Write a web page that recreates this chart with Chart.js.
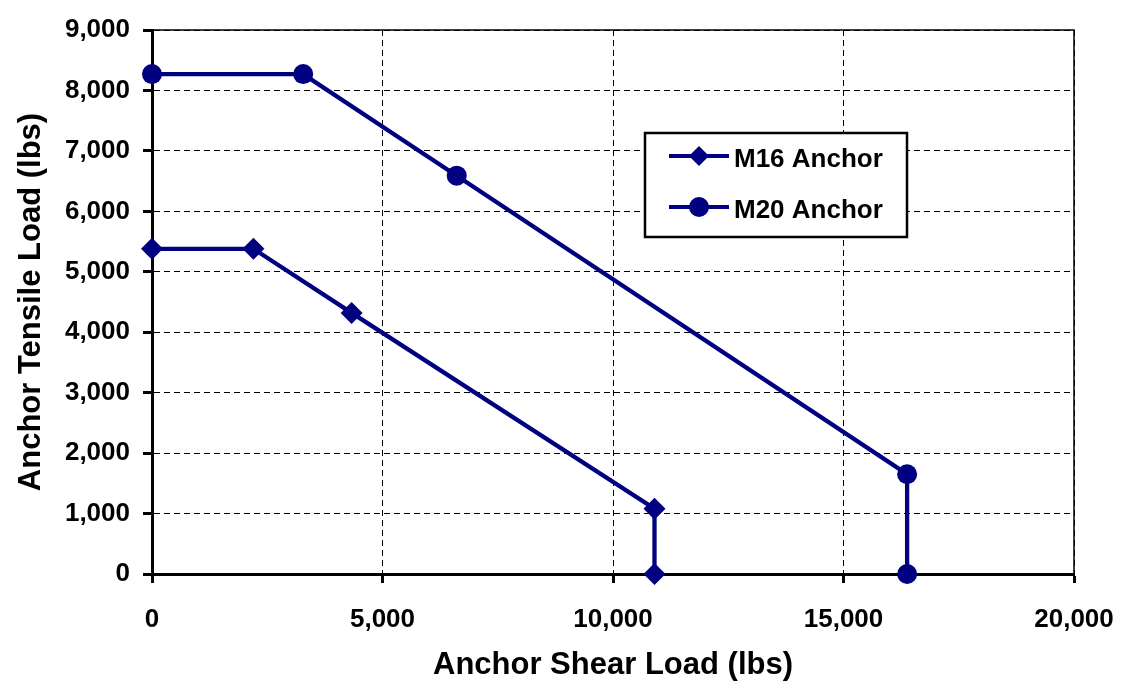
<!DOCTYPE html>
<html>
<head>
<meta charset="utf-8">
<script src="https://cdn.jsdelivr.net/npm/chart.js@4/dist/chart.umd.min.js"></script>
<style>
  html, body { margin: 0; padding: 0; background: #fff; }
  #wrap { width: 1126px; height: 698px; }
</style>
</head>
<body>
<div id="wrap"><canvas id="chart" width="1126" height="698"></canvas></div>
<script>
// --- Data ---
const m16Shear = [0, 2200, 4330, 10900, 10900];
const m16Tensile = [5380, 5380, 4320, 1080, 0];
const m20Shear = [0, 3280, 6610, 16380, 16380];
const m20Tensile = [8270, 8270, 6590, 1650, 0];
const seriesNames = ["M16 Anchor", "M20 Anchor"];

const navy = "#000080";
const toPoints = (xs, ys) => xs.map((x, i) => ({ x: x, y: ys[i] }));

// frame + legend box drawn on top
const framePlugin = {
  id: "frame",
  afterDraw(chart) {
    const ctx = chart.ctx;
    const a = chart.chartArea;
    ctx.save();
    ctx.strokeStyle = "#000";
    ctx.lineWidth = 1.5;
    ctx.beginPath();
    ctx.moveTo(a.left, a.top);
    ctx.lineTo(a.right, a.top);
    ctx.lineTo(a.right, a.bottom);
    ctx.stroke();

    // legend
    const bx = 645, by = 133, bw = 262, bh = 104;
    ctx.fillStyle = "#fff";
    ctx.fillRect(bx, by, bw, bh);
    ctx.lineWidth = 2.5;
    ctx.strokeRect(bx, by, bw, bh);
    ctx.font = "bold 26px 'Liberation Sans', Arial, sans-serif";
    ctx.textBaseline = "middle";
    chart.data.datasets.forEach((ds, i) => {
      const y = by + 23 + i * 51;
      ctx.strokeStyle = navy;
      ctx.lineWidth = 4;
      ctx.beginPath();
      ctx.moveTo(669, y);
      ctx.lineTo(729, y);
      ctx.stroke();
      ctx.fillStyle = navy;
      ctx.beginPath();
      if (ds.pointStyle === "rectRot") {
        const r = 10;
        ctx.moveTo(699, y - r);
        ctx.lineTo(699 + r, y);
        ctx.lineTo(699, y + r);
        ctx.lineTo(699 - r, y);
        ctx.closePath();
      } else {
        ctx.arc(699, y, 10, 0, Math.PI * 2);
      }
      ctx.fill();
      ctx.fillStyle = "#000";
      ctx.fillText(ds.label, 734, y + 4);
    });
    ctx.restore();
  },
};

const tickFont = { family: "'Liberation Sans', Arial, sans-serif", size: 26, weight: "bold" };
const titleFont = { family: "'Liberation Sans', Arial, sans-serif", size: 31, weight: "bold" };

new Chart(document.getElementById("chart"), {
  type: "scatter",
  data: {
    datasets: [
      {
        label: seriesNames[0],
        data: toPoints(m16Shear, m16Tensile),
        showLine: true,
        borderColor: navy,
        backgroundColor: navy,
        borderWidth: 4.3,
        pointStyle: "rectRot",
        pointRadius: 11,
        pointBorderWidth: 0,
        clip: false,
      },
      {
        label: seriesNames[1],
        data: toPoints(m20Shear, m20Tensile),
        showLine: true,
        borderColor: navy,
        backgroundColor: navy,
        borderWidth: 4.3,
        pointStyle: "circle",
        pointRadius: 10,
        pointBorderWidth: 0,
        clip: false,
      },
    ],
  },
  options: {
    responsive: false,
    animation: false,
    devicePixelRatio: 1,
    layout: { padding: { top: 30, right: 52, left: 0, bottom: 0 } },
    plugins: {
      legend: { display: false },
      tooltip: { enabled: false },
    },
    scales: {
      x: {
        type: "linear",
        min: 0,
        max: 20000,
        ticks: {
          stepSize: 5000,
          color: "#000",
          font: tickFont,
          padding: 21,
          maxRotation: 0,
        },
        grid: {
          color: "#000",
          lineWidth: 1,
          tickLength: 9,
          tickColor: "#000",
          tickWidth: 3,
          tickBorderDash: [],
        },
        border: { color: "#000", width: 3, dash: [6, 4] },
        title: {
          display: true,
          text: "Anchor Shear Load (lbs)",
          color: "#000",
          font: titleFont,
          padding: { top: 4, bottom: 14 },
        },
        afterFit: (scale) => {
          scale.height = 124;
          scale.paddingLeft = 0;
          scale.paddingRight = 0;
        },
      },
      y: {
        type: "linear",
        min: 0,
        max: 9000,
        ticks: {
          stepSize: 1000,
          color: "#000",
          font: tickFont,
          padding: 13,
        },
        grid: {
          color: "#000",
          lineWidth: 1,
          tickLength: 9,
          tickColor: "#000",
          tickWidth: 3,
          tickBorderDash: [],
        },
        border: { color: "#000", width: 3, dash: [6, 4] },
        title: {
          display: true,
          text: "Anchor Tensile Load (lbs)",
          color: "#000",
          font: titleFont,
          padding: { top: 13, bottom: 4 },
        },
        afterFit: (scale) => {
          scale.width = 152;
          scale.paddingTop = 0;
          scale.paddingBottom = 0;
        },
      },
    },
  },
  plugins: [framePlugin],
});
</script>
</body>
</html>
